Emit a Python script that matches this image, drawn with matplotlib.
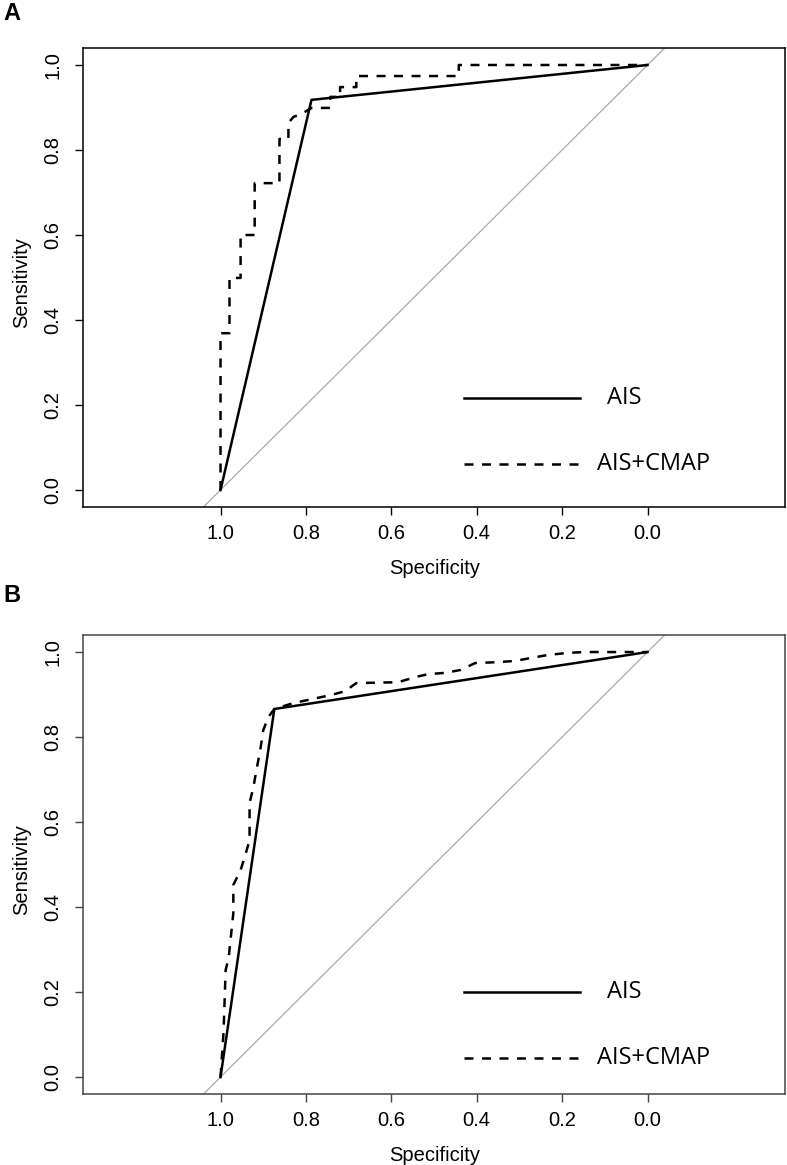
import matplotlib
matplotlib.use("Agg")
import matplotlib.pyplot as plt

# ROC curves: specificity (x, reversed) vs sensitivity
ais_a_spec = [1.0, 0.787, 0.0]
ais_a_sens = [0.0, 0.918, 1.0]
cmap_a_spec = [1.0, 1.0, 0.979, 0.979, 0.953, 0.953, 0.92, 0.92, 0.862, 0.862,
               0.841, 0.841, 0.829, 0.81, 0.787, 0.743, 0.743, 0.72, 0.72,
               0.682, 0.682, 0.442, 0.442, 0.0]
cmap_a_sens = [0.0, 0.369, 0.369, 0.499, 0.499, 0.60, 0.60, 0.722, 0.722, 0.826,
               0.826, 0.864, 0.878, 0.885, 0.899, 0.899, 0.925, 0.925, 0.948,
               0.948, 0.974, 0.974, 1.0, 1.0]

ais_b_spec = [1.0, 0.874, 0.0]
ais_b_sens = [0.0, 0.866, 1.0]
cmap_b_spec = [1.0, 0.993, 0.988, 0.981, 0.970, 0.970, 0.953, 0.942, 0.932, 0.932,
               0.923, 0.916, 0.907, 0.90, 0.888, 0.874, 0.829, 0.787, 0.741,
               0.708, 0.682, 0.584, 0.544, 0.514, 0.474, 0.437, 0.404, 0.357,
               0.311, 0.273, 0.234, 0.187, 0.147, 0.0]
cmap_b_sens = [0.0, 0.104, 0.252, 0.28, 0.386, 0.452, 0.487, 0.522, 0.558, 0.645,
               0.682, 0.722, 0.769, 0.816, 0.847, 0.866, 0.88, 0.889, 0.899,
               0.908, 0.927, 0.929, 0.941, 0.948, 0.951, 0.958, 0.974, 0.976,
               0.979, 0.986, 0.993, 0.998, 1.0, 1.0]

tick_vals = [1.0, 0.8, 0.6, 0.4, 0.2, 0.0]
tick_labels = ["1.0", "0.8", "0.6", "0.4", "0.2", "0.0"]
series_labels = ["AIS", "AIS+CMAP"]

plt.rcParams["font.family"] = "Liberation Sans"

fig = plt.figure(figsize=(7.87, 11.65), dpi=100)

DASH = (0, (3.6, 3.4))


def roc_panel(rect, letter, letter_y, ais, cmap, leg_y, spine_col):
    ax = fig.add_axes(rect)
    ax.plot([2, -1], [-1, 2], color="#aaaaaa", lw=0.9, zorder=1)
    ax.plot(ais[0], ais[1], color="black", lw=1.8, zorder=3)
    ax.plot(cmap[0], cmap[1], color="black", lw=1.8, linestyle=DASH, zorder=3)
    ax.set_xlim(1.322, -0.322)
    ax.set_ylim(-0.04, 1.04)
    ax.set_xticks(tick_vals)
    ax.set_xticklabels(tick_labels)
    ax.set_yticks(tick_vals)
    ax.set_yticklabels(tick_labels, rotation=90, va="center")
    ax.tick_params(axis="both", direction="out", length=6, width=1.0,
                   labelsize=14.5, color=spine_col)
    ax.tick_params(axis="x", pad=6)
    ax.tick_params(axis="y", pad=9)
    for s in ax.spines.values():
        s.set_linewidth(1.1)
        s.set_color(spine_col)
    ax.text(0.501, -0.133, "Specificity", transform=ax.transAxes,
            ha="center", va="center", fontsize=14.5)
    ax.text(-0.087, 0.49, "Sensitivity", transform=ax.transAxes,
            ha="center", va="center", rotation=90, fontsize=14.5)

    # legend drawn R-style (no box)
    ax.plot([0.429, 0.159], [leg_y, leg_y], color="black", lw=1.8)
    ax.plot([0.429, 0.159], [leg_y - 0.155, leg_y - 0.155], color="black",
            lw=1.8, linestyle=DASH)
    ax.text(0.096, leg_y, series_labels[0], fontsize=17, family="Open Sans",
            ha="left", va="center")
    ax.text(0.119, leg_y - 0.155, series_labels[1], fontsize=17,
            family="Open Sans", ha="left", va="center")

    fig.text(0.004, letter_y, letter, fontsize=17, fontweight="bold",
             ha="left", va="center")
    return ax


roc_panel([0.1055, 0.5648, 0.892, 0.394], "A", 1 - 14 / 1165,
          (ais_a_spec, ais_a_sens), (cmap_a_spec, cmap_a_sens), 0.216, "black")
roc_panel([0.1055, 0.0609, 0.892, 0.394], "B", 1 - 596 / 1165,
          (ais_b_spec, ais_b_sens), (cmap_b_spec, cmap_b_sens), 0.20, "#444444")

fig.savefig("out.png", dpi=100)
